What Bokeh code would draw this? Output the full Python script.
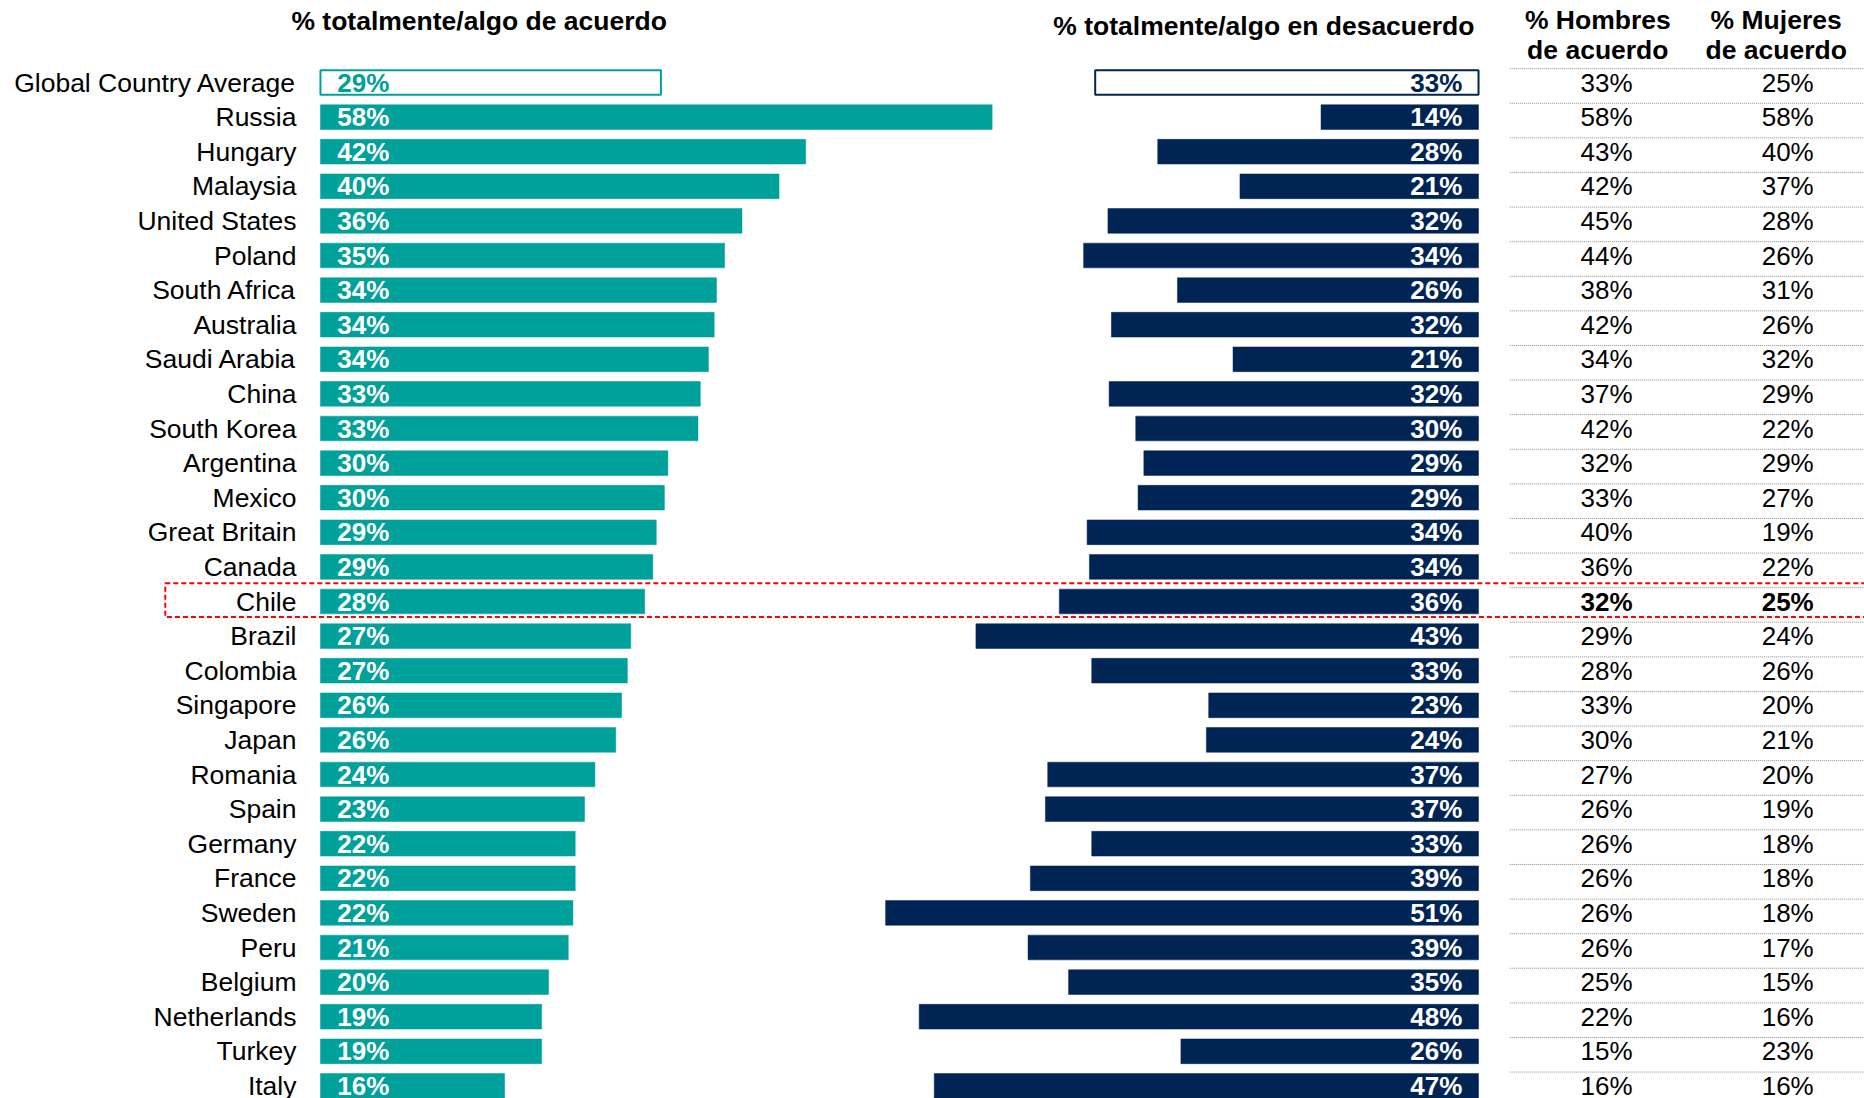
from bokeh.plotting import figure
from bokeh.models import ColumnDataSource, Range1d
from bokeh.core.properties import value
from bokeh.embed import file_html
from bokeh.resources import INLINE

countries = ["Global Country Average", "Russia", "Hungary", "Malaysia", "United States",
             "Poland", "South Africa", "Australia", "Saudi Arabia", "China", "South Korea",
             "Argentina", "Mexico", "Great Britain", "Canada", "Chile", "Brazil", "Colombia",
             "Singapore", "Japan", "Romania", "Spain", "Germany", "France", "Sweden", "Peru",
             "Belgium", "Netherlands", "Turkey", "Italy"]
# displayed labels
agree_lbl = [29, 58, 42, 40, 36, 35, 34, 34, 34, 33, 33, 30, 30, 29, 29, 28, 27, 27, 26, 26,
             24, 23, 22, 22, 22, 21, 20, 19, 19, 16]
disagree_lbl = [33, 14, 28, 21, 32, 34, 26, 32, 21, 32, 30, 29, 29, 34, 34, 36, 43, 33, 23, 24,
                37, 37, 33, 39, 51, 39, 35, 48, 26, 47]
# bar lengths (unrounded)
agree_bar = [29.4, 58.0, 41.9, 39.6, 36.4, 34.9, 34.2, 34.0, 33.5, 32.8, 32.6, 30.0, 29.7, 29.0,
             28.7, 28.0, 26.8, 26.5, 26.0, 25.5, 23.7, 22.8, 22.0, 22.0, 21.8, 21.4, 19.7, 19.1,
             19.1, 15.9]
disagree_bar = [33.1, 13.6, 27.7, 20.6, 32.0, 34.1, 26.0, 31.7, 21.2, 31.9, 29.6, 28.9, 29.4,
                33.8, 33.6, 36.2, 43.4, 33.4, 23.3, 23.5, 37.2, 37.4, 33.4, 38.7, 51.2, 38.9,
                35.4, 48.3, 25.7, 47.0]
men = [33, 58, 43, 42, 45, 44, 38, 42, 34, 37, 42, 32, 33, 40, 36, 32, 29, 28, 33, 30, 27, 26,
       26, 26, 26, 26, 25, 22, 15, 16]
women = [25, 58, 40, 37, 28, 26, 31, 26, 32, 29, 22, 29, 27, 19, 22, 25, 24, 26, 20, 21, 20, 19,
         18, 18, 18, 17, 15, 16, 23, 16]
highlight = "Chile"

TEAL = "#00A09B"
NAVY = "#002454"
FONT = value("Liberation Sans")

n = len(countries)
rows = list(range(n))
is_avg = [i == 0 for i in rows]

src = ColumnDataSource(dict(
    y=rows,
    country=countries,
    agree=agree_bar,
    dis_left=[100 - d for d in disagree_bar],
    agree_txt=[f"{v}%" for v in agree_lbl],
    dis_txt=[f"{v}%" for v in disagree_lbl],
    men_txt=[f"{v}%" for v in men],
    women_txt=[f"{v}%" for v in women],
    a_fill=["white" if a else TEAL for a in is_avg],
    d_fill=["white" if a else NAVY for a in is_avg],
    a_lw=[2 if a else 0.5 for a in is_avg],
    d_lw=[2 if a else 0.5 for a in is_avg],
    a_txtc=[TEAL if a else "white" for a in is_avg],
    d_txtc=[NAVY if a else "white" for a in is_avg],
    tstyle=["bold" if c == highlight else "normal" for c in countries],
))

p = figure(width=1864, height=1098, x_range=Range1d(-27.63, 133.33),
           y_range=Range1d(29.364, -2.370), output_backend="svg", toolbar_location=None,
           min_border=0, x_axis_type=None, y_axis_type=None)
p.xgrid.visible = False
p.ygrid.visible = False
p.outline_line_color = None
p.background_fill_color = "white"

BH = 0.714
p.hbar(y="y", left=0, right="agree", height=BH, fill_color="a_fill", line_color=TEAL,
       line_width="a_lw", source=src)
p.hbar(y="y", left="dis_left", right=100, height=BH, fill_color="d_fill", line_color=NAVY,
       line_width="d_lw", source=src)

p.text(x=1.45, y="y", text="agree_txt", text_color="a_txtc", text_font=FONT,
       text_font_style="bold", text_font_size="26px", text_align="left",
       text_baseline="middle", source=src)
p.text(x=98.6, y="y", text="dis_txt", text_color="d_txtc", text_font=FONT,
       text_font_style="bold", text_font_size="26px", text_align="right",
       text_baseline="middle", source=src)

p.text(x=-2.07, y="y", text="country", text_color="black", text_font=FONT,
       text_font_size="26.5px", text_align="right", text_baseline="middle", source=src)

# table
sep = ColumnDataSource(dict(y=[r - 0.4 for r in rows]))
p.segment(x0=102.7, x1=140, y0="y", y1="y", line_color="#8C8C8C", line_width=1,
          line_dash="1 1", source=sep)
p.text(x=111.05, y="y", text="men_txt", text_color="black", text_font=FONT,
       text_font_style="tstyle", text_font_size="26px", text_align="center",
       text_baseline="middle", source=src)
p.text(x=126.7, y="y", text="women_txt", text_color="black", text_font=FONT,
       text_font_style="tstyle", text_font_size="26px", text_align="center",
       text_baseline="middle", source=src)

# headers
p.text(x=[13.7], y=[-1.79], text=["% totalmente/algo de acuerdo"], text_font=FONT,
       text_font_style="bold", text_font_size="26.5px", text_align="center",
       text_baseline="middle", text_color="black")
p.text(x=[99.65], y=[-1.62], text=["% totalmente/algo en desacuerdo"], text_font=FONT,
       text_font_style="bold", text_font_size="26.5px", text_align="right",
       text_baseline="middle", text_color="black")
p.text(x=[110.3, 110.3, 125.7, 125.7], y=[-1.80, -0.94, -1.80, -0.94],
       text=["% Hombres", "de acuerdo", "% Mujeres", "de acuerdo"], text_font=FONT,
       text_font_style="bold", text_font_size="26.5px", text_align="center",
       text_baseline="middle", text_color="black")

# highlight box around Chile
hi = countries.index(highlight)
p.quad(left=[-13.4], right=[145], top=[hi - 0.53], bottom=[hi + 0.45], fill_color=None,
       line_color="#FF0000", line_width=2, line_dash="5 3")

open("out.html", "w").write(file_html(p, INLINE))
